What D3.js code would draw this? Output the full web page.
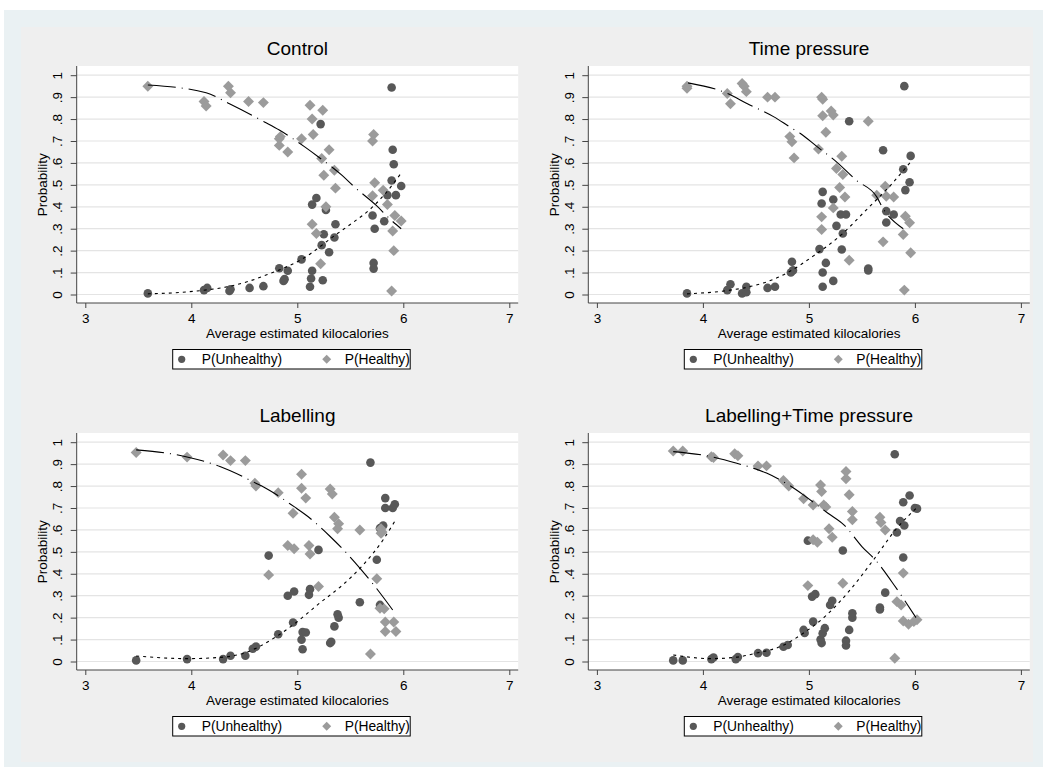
<!DOCTYPE html>
<html>
<head>
<meta charset="utf-8">
<script src="https://cdn.jsdelivr.net/npm/d3@7"></script>
<style>
  body { margin: 0; background: #fff; }
  svg { display: block; font-family: "Liberation Sans", Arial, sans-serif; }
</style>
</head>
<body>
<div id="chart"></div>
<script>
// values: [average kcal, probability]
const controlUnhealthy = [[3.59,0.005],[4.12,0.02],[4.15,0.03],[4.36,0.016],[4.37,0.024],[4.55,0.03],[4.68,0.038],[4.83,0.12],[4.91,0.108],[4.87,0.062],[4.88,0.07],[5.04,0.16],[5.12,0.035],[5.13,0.073],[5.14,0.108],[5.24,0.065],[5.30,0.193],[5.23,0.225],[5.25,0.275],[5.35,0.26],[5.36,0.32],[5.14,0.41],[5.18,0.44],[5.27,0.385],[5.22,0.777],[5.89,0.944],[5.90,0.66],[5.91,0.594],[5.89,0.52],[5.98,0.495],[5.85,0.453],[5.93,0.453],[5.71,0.36],[5.73,0.30],[5.82,0.334],[5.72,0.144],[5.72,0.118]];
const controlHealthy = [[3.59,0.95],[4.12,0.88],[4.14,0.86],[4.35,0.95],[4.37,0.92],[4.54,0.88],[4.68,0.875],[4.83,0.71],[4.84,0.72],[4.83,0.68],[4.91,0.65],[5.04,0.71],[5.12,0.863],[5.14,0.80],[5.24,0.84],[5.15,0.73],[5.30,0.66],[5.23,0.62],[5.35,0.567],[5.25,0.544],[5.36,0.485],[5.27,0.40],[5.14,0.32],[5.18,0.278],[5.22,0.14],[5.72,0.73],[5.71,0.70],[5.73,0.51],[5.71,0.45],[5.81,0.475],[5.85,0.41],[5.92,0.36],[5.98,0.335],[5.90,0.29],[5.91,0.20],[5.89,0.016]];
const controlFitUnhealthy = [[3.59,0.003],[3.91,0.01],[4.16,0.022],[4.35,0.036],[4.54,0.06],[4.73,0.093],[4.83,0.112],[5.04,0.16],[5.37,0.275],[5.53,0.33],[5.69,0.39],[5.83,0.46],[5.97,0.547]];
const controlFitHealthy = [[3.59,0.955],[4.14,0.92],[4.36,0.87],[4.69,0.787],[4.83,0.75],[5.07,0.673],[5.2,0.627],[5.42,0.544],[5.54,0.49],[5.75,0.404],[5.87,0.346],[5.98,0.30]];

const timeUnhealthy = [[3.85,0.005],[4.23,0.02],[4.26,0.047],[4.37,0.005],[4.41,0.01],[4.41,0.035],[4.61,0.03],[4.68,0.035],[4.84,0.149],[4.85,0.11],[4.83,0.10],[5.10,0.207],[5.13,0.10],[5.16,0.144],[5.13,0.035],[5.23,0.062],[5.31,0.205],[5.32,0.278],[5.26,0.313],[5.30,0.365],[5.35,0.365],[5.23,0.433],[5.12,0.415],[5.13,0.468],[5.38,0.79],[5.56,0.118],[5.56,0.11],[5.70,0.658],[5.73,0.38],[5.73,0.328],[5.80,0.365],[5.90,0.95],[5.89,0.571],[5.96,0.632],[5.95,0.512],[5.91,0.476]];
const timeHealthy = [[3.85,0.95],[3.85,0.94],[4.23,0.917],[4.26,0.87],[4.37,0.962],[4.39,0.95],[4.41,0.925],[4.61,0.90],[4.68,0.90],[4.82,0.72],[4.84,0.696],[4.86,0.623],[5.12,0.90],[5.13,0.89],[5.13,0.815],[5.21,0.837],[5.23,0.818],[5.16,0.74],[5.09,0.663],[5.31,0.63],[5.26,0.575],[5.32,0.547],[5.29,0.488],[5.34,0.445],[5.23,0.395],[5.12,0.354],[5.12,0.296],[5.38,0.156],[5.56,0.79],[5.64,0.453],[5.72,0.494],[5.73,0.448],[5.80,0.445],[5.91,0.357],[5.95,0.327],[5.89,0.274],[5.70,0.24],[5.96,0.19],[5.90,0.02]];
const timeFitUnhealthy = [[3.85,0.003],[4.23,0.018],[4.48,0.04],[4.67,0.07],[4.8,0.1],[5.04,0.175],[5.30,0.27],[5.55,0.39],[5.77,0.498],[5.96,0.605]];
const timeFitHealthy = [[3.86,0.965],[4.23,0.917],[4.42,0.87],[4.67,0.81],[4.82,0.764],[4.92,0.734],[5.08,0.673],[5.26,0.605],[5.45,0.52],[5.64,0.445],[5.69,0.40],[5.89,0.30]];

const labelUnhealthy = [[3.48,0.005],[3.96,0.011],[4.30,0.011],[4.37,0.026],[4.51,0.026],[4.58,0.058],[4.61,0.068],[4.82,0.124],[4.73,0.483],[4.96,0.178],[4.91,0.30],[4.97,0.319],[5.05,0.134],[5.04,0.099],[5.05,0.056],[5.08,0.132],[5.12,0.33],[5.11,0.304],[5.20,0.509],[5.31,0.084],[5.32,0.09],[5.35,0.16],[5.39,0.20],[5.38,0.215],[5.59,0.27],[5.69,0.907],[5.75,0.464],[5.81,0.62],[5.78,0.608],[5.83,0.745],[5.83,0.70],[5.90,0.70],[5.92,0.717],[5.78,0.258]];
const labelHealthy = [[3.48,0.953],[3.96,0.932],[4.30,0.942],[4.37,0.916],[4.51,0.916],[4.60,0.813],[4.61,0.80],[4.82,0.77],[4.73,0.395],[5.04,0.854],[5.04,0.79],[5.08,0.745],[4.96,0.676],[4.91,0.529],[4.97,0.514],[5.11,0.529],[5.12,0.49],[5.31,0.787],[5.33,0.764],[5.35,0.658],[5.39,0.628],[5.38,0.605],[5.20,0.342],[5.59,0.60],[5.79,0.605],[5.80,0.59],[5.79,0.585],[5.75,0.377],[5.78,0.243],[5.82,0.24],[5.83,0.18],[5.91,0.18],[5.83,0.137],[5.93,0.137],[5.69,0.034]];
const labelFitUnhealthy = [[3.48,0.025],[3.96,0.013],[4.30,0.02],[4.51,0.04],[4.74,0.095],[4.96,0.167],[5.21,0.266],[5.43,0.35],[5.62,0.44],[5.81,0.555],[5.92,0.64]];
const labelFitHealthy = [[3.48,0.965],[3.95,0.934],[4.27,0.889],[4.61,0.813],[4.74,0.78],[4.97,0.706],[5.10,0.661],[5.31,0.57],[5.42,0.517],[5.59,0.426],[5.72,0.35],[5.90,0.235]];

const bothUnhealthy = [[3.72,0.005],[3.81,0.005],[4.08,0.011],[4.10,0.018],[4.31,0.011],[4.33,0.02],[4.52,0.038],[4.60,0.04],[4.76,0.067],[4.80,0.075],[4.95,0.144],[4.96,0.13],[5.04,0.182],[5.03,0.296],[5.06,0.307],[4.99,0.551],[5.12,0.084],[5.11,0.10],[5.13,0.129],[5.15,0.152],[5.20,0.258],[5.22,0.277],[5.32,0.506],[5.35,0.073],[5.35,0.095],[5.38,0.144],[5.41,0.20],[5.41,0.22],[5.67,0.246],[5.67,0.237],[5.72,0.314],[5.81,0.945],[5.83,0.588],[5.86,0.641],[5.90,0.62],[5.89,0.726],[5.95,0.757],[6.00,0.70],[6.02,0.697],[5.89,0.474]];
const bothHealthy = [[3.72,0.96],[3.81,0.96],[4.08,0.934],[4.10,0.93],[4.30,0.947],[4.33,0.938],[4.52,0.892],[4.60,0.892],[4.76,0.825],[4.81,0.80],[4.95,0.742],[5.04,0.714],[5.11,0.805],[5.12,0.775],[5.14,0.714],[5.16,0.705],[5.19,0.605],[5.22,0.567],[5.04,0.555],[5.08,0.544],[4.99,0.346],[5.32,0.357],[5.35,0.866],[5.35,0.833],[5.38,0.76],[5.41,0.684],[5.41,0.646],[5.67,0.658],[5.68,0.634],[5.72,0.60],[5.89,0.403],[5.83,0.273],[5.87,0.258],[5.89,0.185],[5.94,0.17],[5.99,0.182],[6.02,0.19],[5.81,0.015]];
const bothFitUnhealthy = [[3.72,0.03],[4.08,0.013],[4.32,0.02],[4.52,0.04],[4.73,0.068],[4.95,0.13],[5.17,0.213],[5.39,0.327],[5.61,0.464],[5.83,0.608],[6.02,0.702]];
const bothFitHealthy = [[3.72,0.957],[4.08,0.934],[4.32,0.904],[4.60,0.859],[4.81,0.805],[4.97,0.752],[5.18,0.676],[5.33,0.623],[5.50,0.524],[5.64,0.456],[5.78,0.365],[6.01,0.2]];

const panelTitles = ["Control", "Time pressure", "Labelling", "Labelling+Time pressure"];
const xTicks = [3, 4, 5, 6, 7];
const yTicks = [0, 0.1, 0.2, 0.3, 0.4, 0.5, 0.6, 0.7, 0.8, 0.9, 1];
const seriesNames = ["P(Unhealthy)", "P(Healthy)"];

const W = 1047, H = 767;
const darkGray = "#585858", lightGray = "#9b9b9b";

const panels = [
  { title: panelTitles[0], unh: controlUnhealthy, hea: controlHealthy, fitU: controlFitUnhealthy, fitH: controlFitHealthy, col: 0, row: 0 },
  { title: panelTitles[1], unh: timeUnhealthy, hea: timeHealthy, fitU: timeFitUnhealthy, fitH: timeFitHealthy, col: 1, row: 0 },
  { title: panelTitles[2], unh: labelUnhealthy, hea: labelHealthy, fitU: labelFitUnhealthy, fitH: labelFitHealthy, col: 0, row: 1 },
  { title: panelTitles[3], unh: bothUnhealthy, hea: bothHealthy, fitU: bothFitUnhealthy, fitH: bothFitHealthy, col: 1, row: 1 }
];

const svg = d3.select("#chart").append("svg").attr("width", W).attr("height", H);

svg.append("rect").attr("x", 4).attr("y", 10).attr("width", 1039).attr("height", 757).attr("fill", "#eaf1f3");
svg.append("rect").attr("x", 21).attr("y", 27).attr("width", 1012).attr("height", 735).attr("fill", "#efefef");

const fmt = (d) => (d === 0 || d === 1 ? String(d) : String(+d.toFixed(1)).replace(/^0/, ""));
const diamond = (size) => d3.symbol(d3.symbolSquare, size)();

panels.forEach((p) => {
  const left = p.col ? 588.3 : 76.7;
  const right = left + 441.5;
  const top = p.row ? 433 : 66;
  const bottom = top + 237;

  const x = d3.scaleLinear().domain([3, 7]).range([left + 8.6, left + 432.6]);
  const y = d3.scaleLinear().domain([0, 1]).range([top + 228.5, top + 9.2]);

  const g = svg.append("g");

  g.append("rect")
    .attr("x", left).attr("y", top)
    .attr("width", right - left).attr("height", bottom - top)
    .attr("fill", "#fff");

  g.append("g")
    .selectAll("line")
    .data(yTicks)
    .join("line")
    .attr("x1", left).attr("x2", right)
    .attr("y1", (d) => y(d)).attr("y2", (d) => y(d))
    .attr("stroke", "#e4e4e4")
    .attr("stroke-width", 1.2);

  const yAxis = g.append("g")
    .attr("transform", `translate(${left},0)`)
    .call(d3.axisLeft(y).tickValues(yTicks).tickSize(6).tickFormat(fmt));
  yAxis.select(".domain").remove();
  yAxis.selectAll(".tick line").attr("stroke", "#444");
  yAxis.selectAll(".tick text")
    .attr("x", null)
    .attr("dy", "0.35em")
    .attr("text-anchor", "middle")
    .attr("transform", "translate(-19,0) rotate(-90)")
    .attr("fill", "#000")
    .style("font-size", "13.5px")
    .style("font-family", "Liberation Sans, Arial, sans-serif");

  const xAxis = g.append("g")
    .attr("transform", `translate(0,${bottom})`)
    .call(d3.axisBottom(x).tickValues(xTicks).tickSize(5).tickPadding(5).tickFormat(d3.format("d")));
  xAxis.select(".domain").remove();
  xAxis.selectAll(".tick line").attr("stroke", "#444");
  xAxis.selectAll(".tick text")
    .attr("fill", "#000")
    .style("font-size", "13.5px")
    .style("font-family", "Liberation Sans, Arial, sans-serif");

  g.append("line")
    .attr("x1", left).attr("x2", right).attr("y1", bottom).attr("y2", bottom)
    .attr("stroke", "#444");
  g.append("line")
    .attr("x1", left).attr("x2", left).attr("y1", top).attr("y2", bottom)
    .attr("stroke", "#444");

  g.append("text")
    .attr("x", (left + right) / 2).attr("y", bottom + 35)
    .attr("text-anchor", "middle")
    .style("font-size", "13.5px")
    .text("Average estimated kilocalories");

  g.append("text")
    .attr("transform", `translate(${left - 34},${(y(0) + y(1)) / 2}) rotate(-90)`)
    .attr("dy", "0.35em")
    .attr("text-anchor", "middle")
    .style("font-size", "13.5px")
    .text("Probability");

  g.append("text")
    .attr("x", (left + right) / 2).attr("y", top - 11)
    .attr("text-anchor", "middle")
    .style("font-size", "19px")
    .text(p.title);

  // markers
  g.append("g")
    .selectAll("circle")
    .data(p.unh)
    .join("circle")
    .attr("cx", (d) => x(d[0]))
    .attr("cy", (d) => y(d[1]))
    .attr("r", 4.3)
    .attr("fill", darkGray);

  g.append("g")
    .selectAll("path")
    .data(p.hea)
    .join("path")
    .attr("d", diamond(60))
    .attr("transform", (d) => `translate(${x(d[0])},${y(d[1])}) rotate(45)`)
    .attr("fill", lightGray);

  // fitted lines
  const line = d3.line()
    .x((d) => x(d[0]))
    .y((d) => y(d[1]))
    .curve(d3.curveMonotoneX);

  g.append("path")
    .datum(p.fitU)
    .attr("d", line)
    .attr("fill", "none")
    .attr("stroke", "#000")
    .attr("stroke-width", 1.1)
    .attr("stroke-dasharray", "3,4");

  g.append("path")
    .datum(p.fitH)
    .attr("d", line)
    .attr("fill", "none")
    .attr("stroke", "#000")
    .attr("stroke-width", 1.1)
    .attr("stroke-dasharray", "28,6,1,6");

  // legend
  const lx = left + 96, ly = bottom + 46.5;
  const legend = g.append("g");
  legend.append("rect")
    .attr("x", lx).attr("y", ly)
    .attr("width", 237.5).attr("height", 19.5)
    .attr("fill", "#fff")
    .attr("stroke", "#000");
  legend.append("circle")
    .attr("cx", lx + 9).attr("cy", ly + 9.8)
    .attr("r", 3.6)
    .attr("fill", darkGray);
  legend.append("text")
    .attr("x", lx + 29).attr("y", ly + 14.6)
    .style("font-size", "13.8px")
    .text(seriesNames[0]);
  legend.append("path")
    .attr("d", diamond(40))
    .attr("transform", `translate(${lx + 154},${ly + 9.8}) rotate(45)`)
    .attr("fill", lightGray);
  legend.append("text")
    .attr("x", lx + 172).attr("y", ly + 14.6)
    .style("font-size", "13.8px")
    .text(seriesNames[1]);
});
</script>
</body>
</html>
